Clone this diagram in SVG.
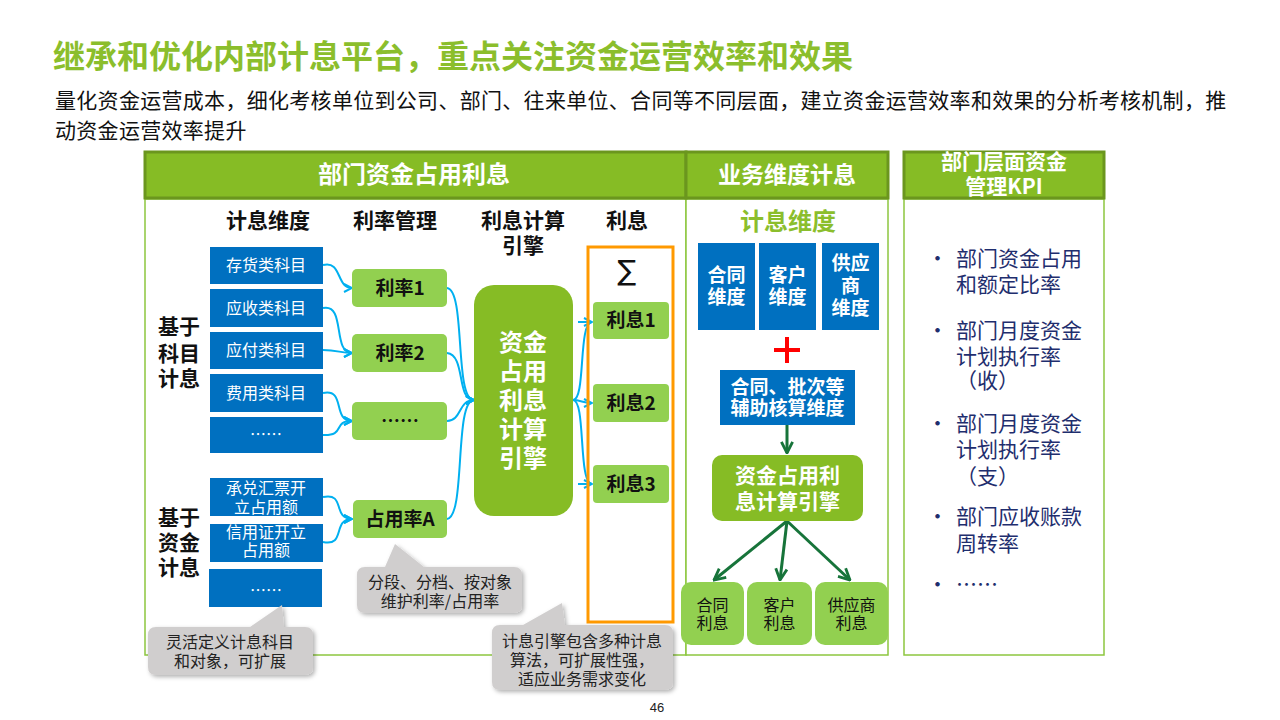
<svg xmlns="http://www.w3.org/2000/svg" width="1280" height="720" viewBox="0 0 1280 720">
<defs>
<style>
text{font-family:"Noto Sans CJK SC","Liberation Sans",sans-serif;}
.title{font-size:32px;font-weight:bold;fill:#8BBE2C;}
.sub{font-size:21px;fill:#111;letter-spacing:0.3px;}
.hdr{fill:#86BC25;stroke:#6B961E;stroke-width:3;}
.hdrt{font-size:23px;font-weight:bold;fill:#fff;text-anchor:middle;}
.panel{fill:#fff;stroke:#8DC63F;stroke-width:1.5;}
.colh{font-size:21px;font-weight:bold;fill:#111;text-anchor:middle;}
.blue{fill:#0070C0;}
.bt{font-size:16px;fill:#fff;text-anchor:middle;}
.btb{font-size:19px;font-weight:bold;fill:#fff;text-anchor:middle;}
.lg{fill:#92D050;}
.lgt{font-size:19px;font-weight:bold;fill:#111;text-anchor:middle;}
.eng{fill:#86BC25;}
.engt{font-size:24px;font-weight:bold;fill:#fff;text-anchor:middle;}
.call{fill:#D0CECE;filter:url(#sh);}
.callt{font-size:16px;fill:#222;text-anchor:middle;}
.kpi{font-size:21px;fill:#1F2E6E;}
.cy{fill:none;stroke:#00B0F0;stroke-width:2;}
.dg{fill:none;stroke:#17743A;stroke-width:3;}
</style>
<marker id="abc" viewBox="0 0 10 10" refX="9" refY="5" markerWidth="10" markerHeight="10" orient="auto" markerUnits="userSpaceOnUse">
<path d="M1,1 L9,5 L1,9" fill="none" stroke="#00B0F0" stroke-width="2"/>
</marker>
<marker id="ag" viewBox="0 0 10 10" refX="9" refY="5" markerWidth="14" markerHeight="14" orient="auto" markerUnits="userSpaceOnUse">
<path d="M1,1 L9,5 L1,9" fill="none" stroke="#17743A" stroke-width="2"/>
</marker>
<filter id="sh" x="-10%" y="-10%" width="125%" height="130%">
<feDropShadow dx="2" dy="2" stdDeviation="2" flood-color="#000" flood-opacity="0.3"/>
</filter>
</defs>
<rect width="1280" height="720" fill="#fff"/>

<g id="title">
<text class="title" x="53" y="68">继承和优化内部计息平台，重点关注资金运营效率和效果</text>
<text class="sub" x="55" y="108">量化资金运营成本，细化考核单位到公司、部门、往来单位、合同等不同层面，建立资金运营效率和效果的分析考核机制，推</text>
<text class="sub" x="55" y="138">动资金运营效率提升</text>
</g>

<g id="panels">
<rect class="panel" x="145" y="199" width="541" height="456"/>
<rect class="panel" x="686" y="199" width="202" height="456"/>
<rect class="panel" x="904" y="199" width="200" height="456"/>
<rect class="hdr" x="145" y="152" width="541" height="46"/>
<text class="hdrt" x="414" y="183" style="font-size:24px">部门资金占用利息</text>
<rect class="hdr" x="686" y="152" width="202" height="46"/>
<text class="hdrt" x="787" y="183">业务维度计息</text>
<rect class="hdr" x="904" y="152" width="200" height="46"/>
<text class="hdrt" style="font-size:21px"><tspan x="1004" y="169">部门层面资金</tspan><tspan x="1004" y="194">管理KPI</tspan></text>
</g>

<g id="column-headers">
<text class="colh" x="268" y="228">计息维度</text>
<text class="colh" x="395" y="228">利率管理</text>
<text class="colh"><tspan x="523" y="228">利息计算</tspan><tspan x="523" y="253">引擎</tspan></text>
<text class="colh" x="627" y="228">利息</text>
<text class="colh"><tspan x="179" y="334">基于</tspan><tspan x="179" y="361">科目</tspan><tspan x="179" y="386">计息</tspan></text>
<text class="colh"><tspan x="179" y="525">基于</tspan><tspan x="179" y="550">资金</tspan><tspan x="179" y="575">计息</tspan></text>
</g>

<g id="connectors">
<path class="cy" d="M323,265 C342,260 336,288 352,288" marker-end="url(#abc)"/>
<path class="cy" d="M323,308 C346,303 332,353 352,353" marker-end="url(#abc)"/>
<path class="cy" d="M323,350 C338,350 340,353 352,353" marker-end="url(#abc)"/>
<path class="cy" d="M323,393 C346,388 332,421 352,421" marker-end="url(#abc)"/>
<path class="cy" d="M323,435 C346,436 332,421 352,421" marker-end="url(#abc)"/>
<path class="cy" d="M323,497 C346,492 332,519 352,519" marker-end="url(#abc)"/>
<path class="cy" d="M323,542 C346,547 332,519 352,519" marker-end="url(#abc)"/>
<path class="cy" d="M447,288 C466,290 454,400 474,400" marker-end="url(#abc)"/>
<path class="cy" d="M447,353 C466,355 456,400 474,400" marker-end="url(#abc)"/>
<path class="cy" d="M447,421 C462,421 458,400 474,400" marker-end="url(#abc)"/>
<path class="cy" d="M447,519 C466,517 454,400 474,400" marker-end="url(#abc)"/>
<path class="cy" d="M573,400 C586,400 578,322 592,322" marker-end="url(#abc)"/>
<path class="cy" d="M573,400 C580,400 584,403 592,403" marker-end="url(#abc)"/>
<path class="cy" d="M573,400 C586,400 578,484 592,484" marker-end="url(#abc)"/>
<path class="cy" d="M578,322 L590,322 M578,484 L590,484"/>
<path class="dg" d="M787,425 L787,453" marker-end="url(#ag)"/>
<path class="dg" d="M787,521 L714,580" marker-end="url(#ag)"/>
<path class="dg" d="M787,521 L780,580" marker-end="url(#ag)"/>
<path class="dg" d="M787,521 L850,580" marker-end="url(#ag)"/>
</g>

<g id="subject-boxes">
<rect class="blue" x="210" y="247" width="113" height="37"/>
<text class="bt" x="266" y="271">存货类科目</text>
<rect class="blue" x="210" y="289" width="113" height="38"/>
<text class="bt" x="266" y="314">应收类科目</text>
<rect class="blue" x="210" y="332" width="113" height="37"/>
<text class="bt" x="266" y="356">应付类科目</text>
<rect class="blue" x="210" y="374" width="113" height="38"/>
<text class="bt" x="266" y="399">费用类科目</text>
<rect class="blue" x="210" y="417" width="113" height="36"/>
<text class="bt" x="266" y="440">……</text>
<rect class="blue" x="210" y="478" width="113" height="38"/>
<text class="bt"><tspan x="266" y="494">承兑汇票开</tspan><tspan x="266" y="513">立占用额</tspan></text>
<rect class="blue" x="210" y="524" width="113" height="38"/>
<text class="bt"><tspan x="266" y="538">信用证开立</tspan><tspan x="266" y="556">占用额</tspan></text>
<rect class="blue" x="209" y="569" width="113" height="38"/>
<text class="bt" x="266" y="596">……</text>
</g>

<g id="rate-boxes">
<rect class="lg" x="352" y="269" width="95" height="38" rx="5"/>
<text class="lgt" x="400" y="295">利率1</text>
<rect class="lg" x="352" y="334" width="95" height="38" rx="5"/>
<text class="lgt" x="400" y="360">利率2</text>
<rect class="lg" x="352" y="402" width="95" height="38" rx="5"/>
<text class="lgt" x="400" y="428">……</text>
<rect class="lg" x="353" y="500" width="94" height="38" rx="5"/>
<text class="lgt" x="400" y="526">占用率A</text>
</g>

<g id="engine">
<rect class="eng" x="474" y="285" width="99" height="231" rx="20"/>
<text class="engt"><tspan x="523" y="351">资金</tspan><tspan x="523" y="380">占用</tspan><tspan x="523" y="409">利息</tspan><tspan x="523" y="438">计算</tspan><tspan x="523" y="467">引擎</tspan></text>
</g>

<g id="interest">
<rect x="588" y="247" width="85" height="375" fill="none" stroke="#FF9900" stroke-width="3"/>
<text x="627" y="280" style="font-size:28px;fill:#111;text-anchor:middle;font-family:'DejaVu Sans',sans-serif">∑</text>
<rect class="lg" x="593" y="302" width="76" height="37" rx="4"/>
<text class="lgt" x="631" y="327">利息1</text>
<rect class="lg" x="593" y="384" width="76" height="38" rx="4"/>
<text class="lgt" x="631" y="410">利息2</text>
<rect class="lg" x="593" y="465" width="76" height="38" rx="4"/>
<text class="lgt" x="631" y="491">利息3</text>
</g>

<g id="callouts">
<path class="call" d="M365,567 L385,567 L395,544 L424,567 L514,567 Q522,567 522,575 L522,605 Q522,613 514,613 L365,613 Q357,613 357,605 L357,575 Q357,567 365,567 Z"/>
<text class="callt"><tspan x="440" y="588">分段、分档、按对象</tspan><tspan x="440" y="607">维护利率/占用率</tspan></text>
<path class="call" d="M156,627 L250,627 L282,605 L284,627 L305,627 Q313,627 313,635 L313,667 Q313,675 305,675 L156,675 Q148,675 148,667 L148,635 Q148,627 156,627 Z"/>
<text class="callt"><tspan x="230" y="648">灵活定义计息科目</tspan><tspan x="230" y="667">和对象，可扩展</tspan></text>
<path class="call" d="M500,625 L523,625 L562,603 L565,625 L665,625 Q673,625 673,633 L673,682 Q673,690 665,690 L500,690 Q492,690 492,682 L492,633 Q492,625 500,625 Z"/>
<text class="callt"><tspan x="582" y="647">计息引擎包含多种计息</tspan><tspan x="582" y="666">算法，可扩展性强，</tspan><tspan x="582" y="685">适应业务需求变化</tspan></text>
</g>

<g id="business">
<text x="788" y="230" style="font-size:24px;font-weight:bold;fill:#8BBE2C;text-anchor:middle">计息维度</text>
<rect class="blue" x="698" y="243" width="57" height="87"/>
<text class="btb"><tspan x="726.5" y="282">合同</tspan><tspan x="726.5" y="304">维度</tspan></text>
<rect class="blue" x="759" y="243" width="57" height="87"/>
<text class="btb"><tspan x="787.5" y="282">客户</tspan><tspan x="787.5" y="304">维度</tspan></text>
<rect class="blue" x="822" y="243" width="57" height="87"/>
<text class="btb"><tspan x="850.5" y="270">供应</tspan><tspan x="850.5" y="293">商</tspan><tspan x="850.5" y="315">维度</tspan></text>
<path d="M774,350 L800,350 M787,337 L787,363" stroke="#FF0000" stroke-width="4"/>
<rect class="blue" x="720" y="370" width="135" height="55"/>
<text class="btb"><tspan x="787.5" y="394">合同、批次等</tspan><tspan x="787.5" y="415">辅助核算维度</tspan></text>
<rect class="eng" x="712" y="455" width="151" height="66" rx="10"/>
<text class="btb" style="font-size:21px"><tspan x="787.5" y="483">资金占用利</tspan><tspan x="787.5" y="509">息计算引擎</tspan></text>
<rect class="lg" x="681" y="582" width="63" height="63" rx="10"/>
<text class="callt" style="fill:#111"><tspan x="712.5" y="611">合同</tspan><tspan x="712.5" y="629">利息</tspan></text>
<rect class="lg" x="747" y="582" width="65" height="63" rx="10"/>
<text class="callt" style="fill:#111"><tspan x="779.5" y="611">客户</tspan><tspan x="779.5" y="629">利息</tspan></text>
<rect class="lg" x="815" y="582" width="73" height="63" rx="10"/>
<text class="callt" style="fill:#111"><tspan x="851.5" y="611">供应商</tspan><tspan x="851.5" y="629">利息</tspan></text>
</g>

<g id="kpi">
<text class="kpi" x="927" y="266">•</text>
<text class="kpi"><tspan x="956" y="266">部门资金占用</tspan><tspan x="956" y="292">和额定比率</tspan></text>
<text class="kpi" x="927" y="338">•</text>
<text class="kpi"><tspan x="956" y="338">部门月度资金</tspan><tspan x="956" y="364">计划执行率</tspan><tspan x="956" y="388">（收）</tspan></text>
<text class="kpi" x="927" y="431">•</text>
<text class="kpi"><tspan x="956" y="431">部门月度资金</tspan><tspan x="956" y="457">计划执行率</tspan><tspan x="956" y="484">（支）</tspan></text>
<text class="kpi" x="927" y="524">•</text>
<text class="kpi"><tspan x="956" y="524">部门应收账款</tspan><tspan x="956" y="551">周转率</tspan></text>
<text class="kpi" x="927" y="592">•</text>
<text class="kpi" x="956" y="592">……</text>
</g>

<text x="657" y="712" style="font-size:13px;fill:#222;text-anchor:middle;font-family:'Liberation Sans',sans-serif">46</text>
</svg>
